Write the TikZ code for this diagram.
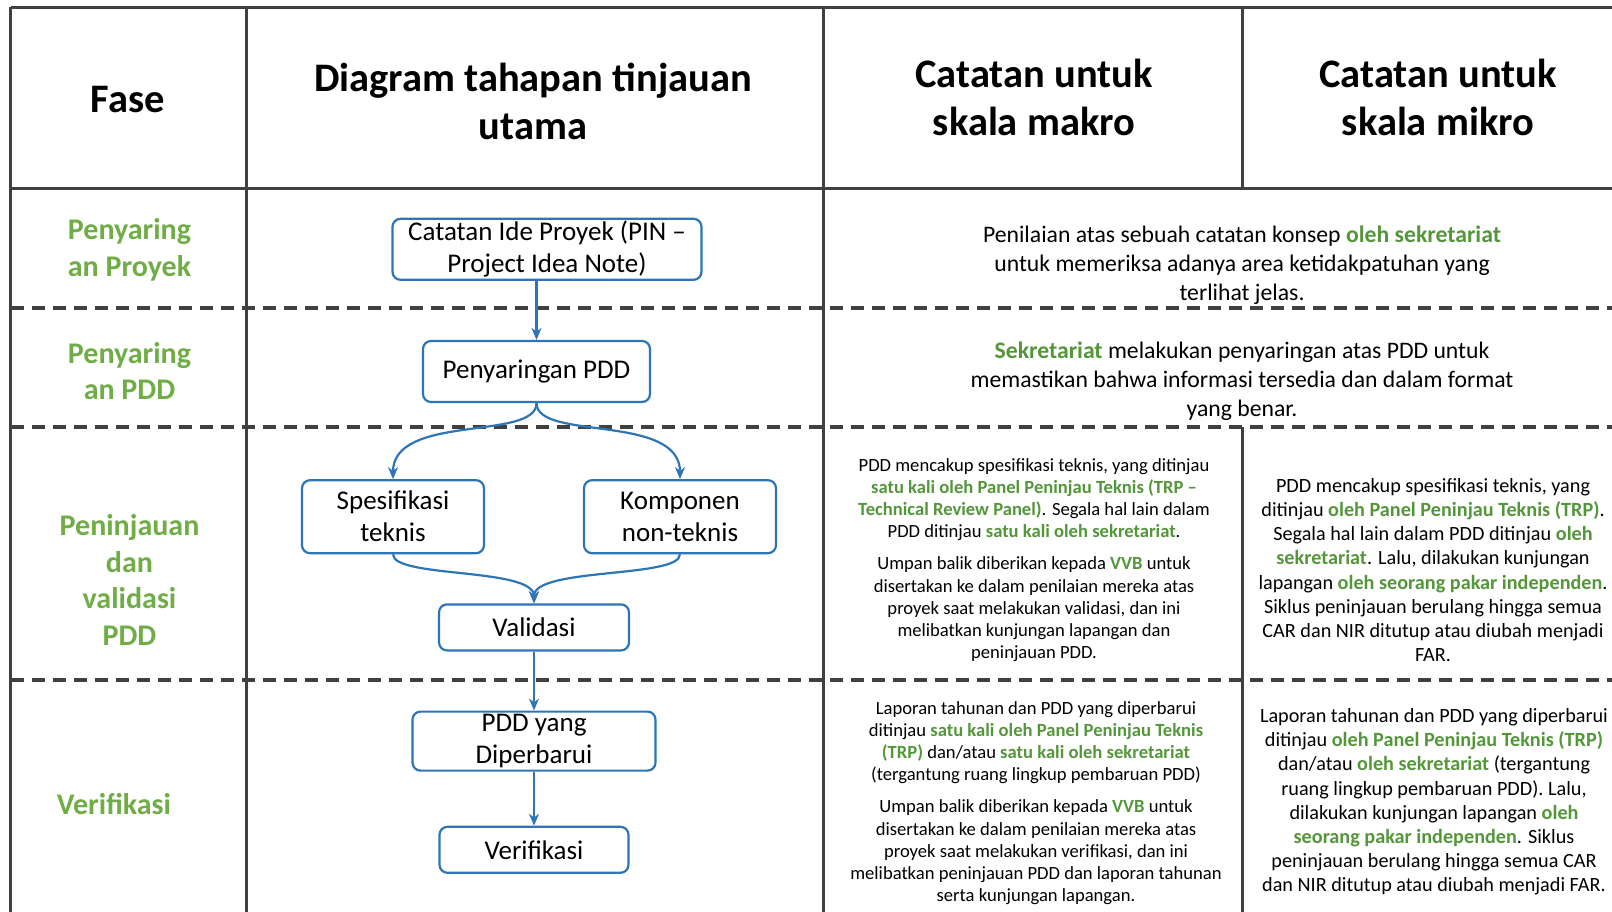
\documentclass[tikz,border=0pt]{standalone}
\usepackage{fontspec}
\setmainfont{Carlito}
\usepackage{tikz}
\usetikzlibrary{positioning,arrows.meta}
\usepackage{xcolor}

\definecolor{boxblue}{RGB}{46,117,182}
\definecolor{phasegreen}{RGB}{112,173,71}
\definecolor{notegreen}{RGB}{84,150,58}
\definecolor{gridgray}{RGB}{64,64,64}

\newcommand{\grn}[1]{\textbf{\textcolor{notegreen}{#1}}}
\newcommand{\fsz}[2]{\fontsize{#1}{#2}\selectfont}

\begin{document}
\begin{tikzpicture}[%
    x=1pt,
    y=-1pt,
    >={Stealth[length=12pt,width=10pt]},
    stage/.style={%
      draw=boxblue,
      line width=2.2pt,
      rounded corners=8pt,
      fill=white,
      align=center,
      inner sep=0pt,
      font=\fsz{27}{32}
    },
    flow/.style={->, draw=boxblue, line width=2.2pt},
    tableline/.style={draw=gridgray, line width=3pt},
    tabledash/.style={draw=gridgray, line width=3.5pt, dash pattern=on 13pt off 8pt},
    head/.style={font=\bfseries\fsz{40.5}{48}, align=center},
    phase/.style={font=\bfseries\fsz{30}{36.5}, text=phasegreen, align=center},
    notebig/.style={font=\fsz{23.7}{29}, align=center},
    notemakro/.style={font=\fsz{18.6}{22.2}, align=center},
    notemikro/.style={font=\fsz{20.2}{24.2}, align=center}
  ]
    \fill[white] (0,0) rectangle (1612,912);
    \useasboundingbox (0,0) rectangle (1612,912);

    % table
    \draw[tableline] (10.5,7.5) -- (1640,7.5);
    \draw[tableline] (10.5,189) -- (1640,189);
    \foreach \x in {10.5,246.5,823.5}
      \draw[tableline] (\x,7.5) -- (\x,930);
    \draw[tableline] (1242.5,7.5) -- (1242.5,189);
    \draw[tableline] (1242.5,427) -- (1242.5,930);
    \foreach \y in {308,427,680}
      \draw[tabledash] (10.5,\y) -- (1640,\y);

    % headers
    \node[head] (hfase)  at (128,100)  {Fase};
    \node[head] (hdiag)  at (533,101)  {Diagram tahapan tinjauan\\ utama};
    \node[head] (hmakro) at (1034,97)  {Catatan untuk\\ skala makro};
    \node[head] (hmikro) at (1438,97)  {Catatan untuk\\ skala mikro};

    % phases
    \node[phase] (f1) at (129.5,250) {Penyaring\\ an Proyek};
    \node[phase] (f2) at (129.5,371) {Penyaring\\ an PDD};
    \node[phase] (f3) at (129.5,580) {Peninjauan\\ dan\\ validasi\\ PDD};
    \node[phase] (f4) at (114,804)   {Verifikasi};

    % flow
    \node[stage, minimum width=227pt, minimum height=61pt] (pdd) at (536.5,371.5) {Penyaringan PDD};
    \node[stage, minimum width=309pt, minimum height=61pt] (pin) [above=59pt of pdd, xshift=10.5pt] {Catatan Ide Proyek (PIN --\\ Project Idea Note)};
    \node[stage, minimum width=182pt, minimum height=73pt] (spes) [below=76pt of pdd, xshift=-143.5pt] {Spesifikasi\\ teknis};
    \node[stage, minimum width=192pt, minimum height=73pt] (komp) [below=76pt of pdd, xshift=143.5pt] {Komponen\\ non-teknis};
    \node[stage, minimum width=190pt, minimum height=46pt] (val) [below=49pt of spes.south -| pdd.south, xshift=-2.5pt] {Validasi};
    \node[stage, minimum width=243pt, minimum height=59pt] (upd) [below=59pt of val] {PDD yang\\ Diperbarui};
    \node[stage, minimum width=189pt, minimum height=46pt] (ver) [below=54pt of upd] {Verifikasi};

    \draw[flow] (pdd.north |- pin.south) -- (pdd.north);
    \draw[flow] (pdd.south) .. controls +(0,38) and +(0,-66) .. (spes.north);
    \draw[flow] (pdd.south) .. controls +(0,38) and +(0,-66) .. (komp.north);
    \draw[flow] (spes.south) .. controls +(0,24) and +(0,-36) .. (val.north);
    \draw[flow] (komp.south) .. controls +(0,24) and +(0,-36) .. (val.north);
    \draw[flow] (val) -- (upd);
    \draw[flow] (upd) -- (ver);

    % notes
    \node[notebig] (n1) at (1242,265.5) {Penilaian atas sebuah catatan konsep \grn{oleh sekretariat}\\ untuk memeriksa adanya area ketidakpatuhan yang\\ terlihat jelas.};
    \node[notebig] (n2) at (1242,381) {\grn{Sekretariat} melakukan penyaringan atas PDD untuk\\ memastikan bahwa informasi tersedia dan dalam format\\ yang benar.};
    \node[notemakro] (n3a) at (1034,560) {PDD mencakup spesifikasi teknis, yang ditinjau\\ \grn{satu kali oleh Panel Peninjau Teknis (TRP --}\\ \grn{Technical Review Panel)}. Segala hal lain dalam\\ PDD ditinjau \grn{satu kali oleh sekretariat}.\\[10pt] Umpan balik diberikan kepada \grn{VVB} untuk\\ disertakan ke dalam penilaian mereka atas\\ proyek saat melakukan validasi, dan ini\\ melibatkan kunjungan lapangan dan\\ peninjauan PDD.};
    \node[notemikro] (n3b) at (1433,570) {PDD mencakup spesifikasi teknis, yang\\ ditinjau \grn{oleh Panel Peninjau Teknis (TRP)}.\\ Segala hal lain dalam PDD ditinjau \grn{oleh}\\ \grn{sekretariat}. Lalu, dilakukan kunjungan\\ lapangan \grn{oleh seorang pakar independen}.\\ Siklus peninjauan berulang hingga semua\\ CAR dan NIR ditutup atau diubah menjadi\\ FAR.};
    \node[notemakro] (n4a) at (1036,803) {Laporan tahunan dan PDD yang diperbarui\\ ditinjau \grn{satu kali oleh Panel Peninjau Teknis}\\ \grn{(TRP)} dan/atau \grn{satu kali oleh sekretariat}\\ (tergantung ruang lingkup pembaruan PDD)\\[10pt] Umpan balik diberikan kepada \grn{VVB} untuk\\ disertakan ke dalam penilaian mereka atas\\ proyek saat melakukan verifikasi, dan ini\\ melibatkan peninjauan PDD dan laporan tahunan\\ serta kunjungan lapangan.};
    \node[notemikro] (n4b) at (1434,802) {Laporan tahunan dan PDD yang diperbarui\\ ditinjau \grn{oleh Panel Peninjau Teknis (TRP)}\\ dan/atau \grn{oleh sekretariat} (tergantung\\ ruang lingkup pembaruan PDD). Lalu,\\ dilakukan kunjungan lapangan \grn{oleh}\\ \grn{seorang pakar independen}. Siklus\\ peninjauan berulang hingga semua CAR\\ dan NIR ditutup atau diubah menjadi FAR.};
  \end{tikzpicture}
\end{document}
